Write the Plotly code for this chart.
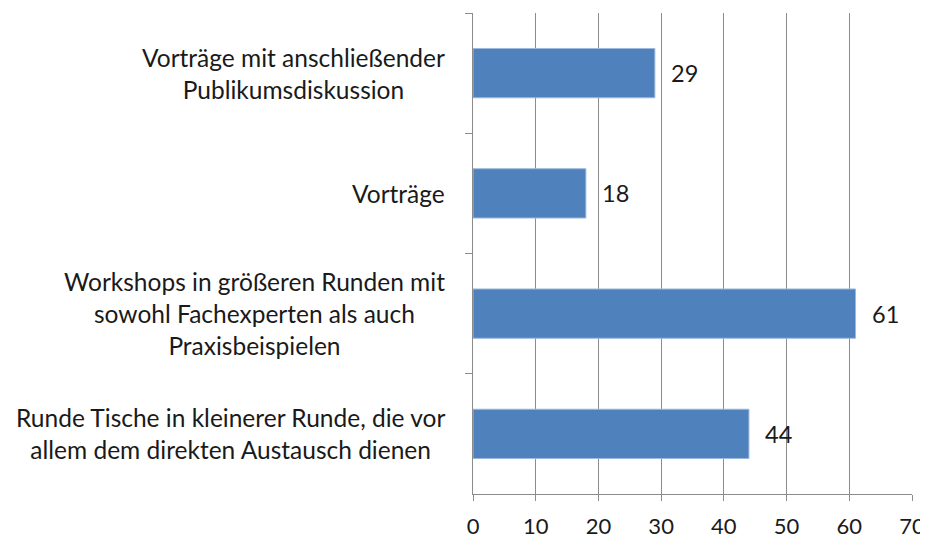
import plotly.graph_objects as go

categories = [
    "Vorträge mit anschließender<br>Publikumsdiskussion",
    "Vorträge",
    "Workshops in größeren Runden mit<br>sowohl Fachexperten als auch<br>Praxisbeispielen",
    "Runde Tische in kleinerer Runde, die vor<br>allem dem direkten Austausch dienen",
]
values = [29, 18, 61, 44]
x_ticks = [0, 10, 20, 30, 40, 50, 60, 70]

FONT = "Lato"
GRID = "#8c8c8c"
TXT = "#1a1a1a"

fig = go.Figure()
fig.add_trace(go.Bar(
    x=values, y=categories, orientation="h",
    marker=dict(color="#4F81BD", line=dict(color="#9DB9DD", width=1)),
    hoverinfo="skip",
))

annotations = []
for c, v in zip(categories, values):
    annotations.append(dict(
        x=v, y=c, xref="x", yref="y", text=str(v), showarrow=False,
        xanchor="left", xshift=14, font=dict(family=FONT, size=23.5, color=TXT),
    ))
    annotations.append(dict(
        x=0, y=c, xref="paper", yref="y", text=c, showarrow=False,
        xanchor="right", xshift=-26, align="center",
        font=dict(family=FONT, size=24.5, color=TXT),
    ))

fig.update_layout(
    width=928, height=532,
    margin=dict(l=465, r=24, t=5, b=46, autoexpand=False),
    paper_bgcolor="white", plot_bgcolor="white",
    bargap=0.59, showlegend=False,
    annotations=annotations,
    font=dict(family=FONT, size=20, color=TXT),
)
fig.update_xaxes(
    range=[0, 70], tickvals=x_ticks, showgrid=True, gridcolor=GRID, gridwidth=1,
    showline=True, linecolor=GRID, linewidth=1, ticks="outside", ticklen=6,
    tickcolor=GRID, zeroline=False, tickfont=dict(family=FONT, size=22, color=TXT),
    fixedrange=True, automargin=False, ticklabelstandoff=7,
)
fig.update_yaxes(
    autorange="reversed", showticklabels=False, showline=True, linecolor=GRID,
    linewidth=1, ticks="outside", ticklen=7, tickcolor=GRID, tickson="boundaries",
    showgrid=False, fixedrange=True, automargin=False,
)
fig.write_html("out.html")
